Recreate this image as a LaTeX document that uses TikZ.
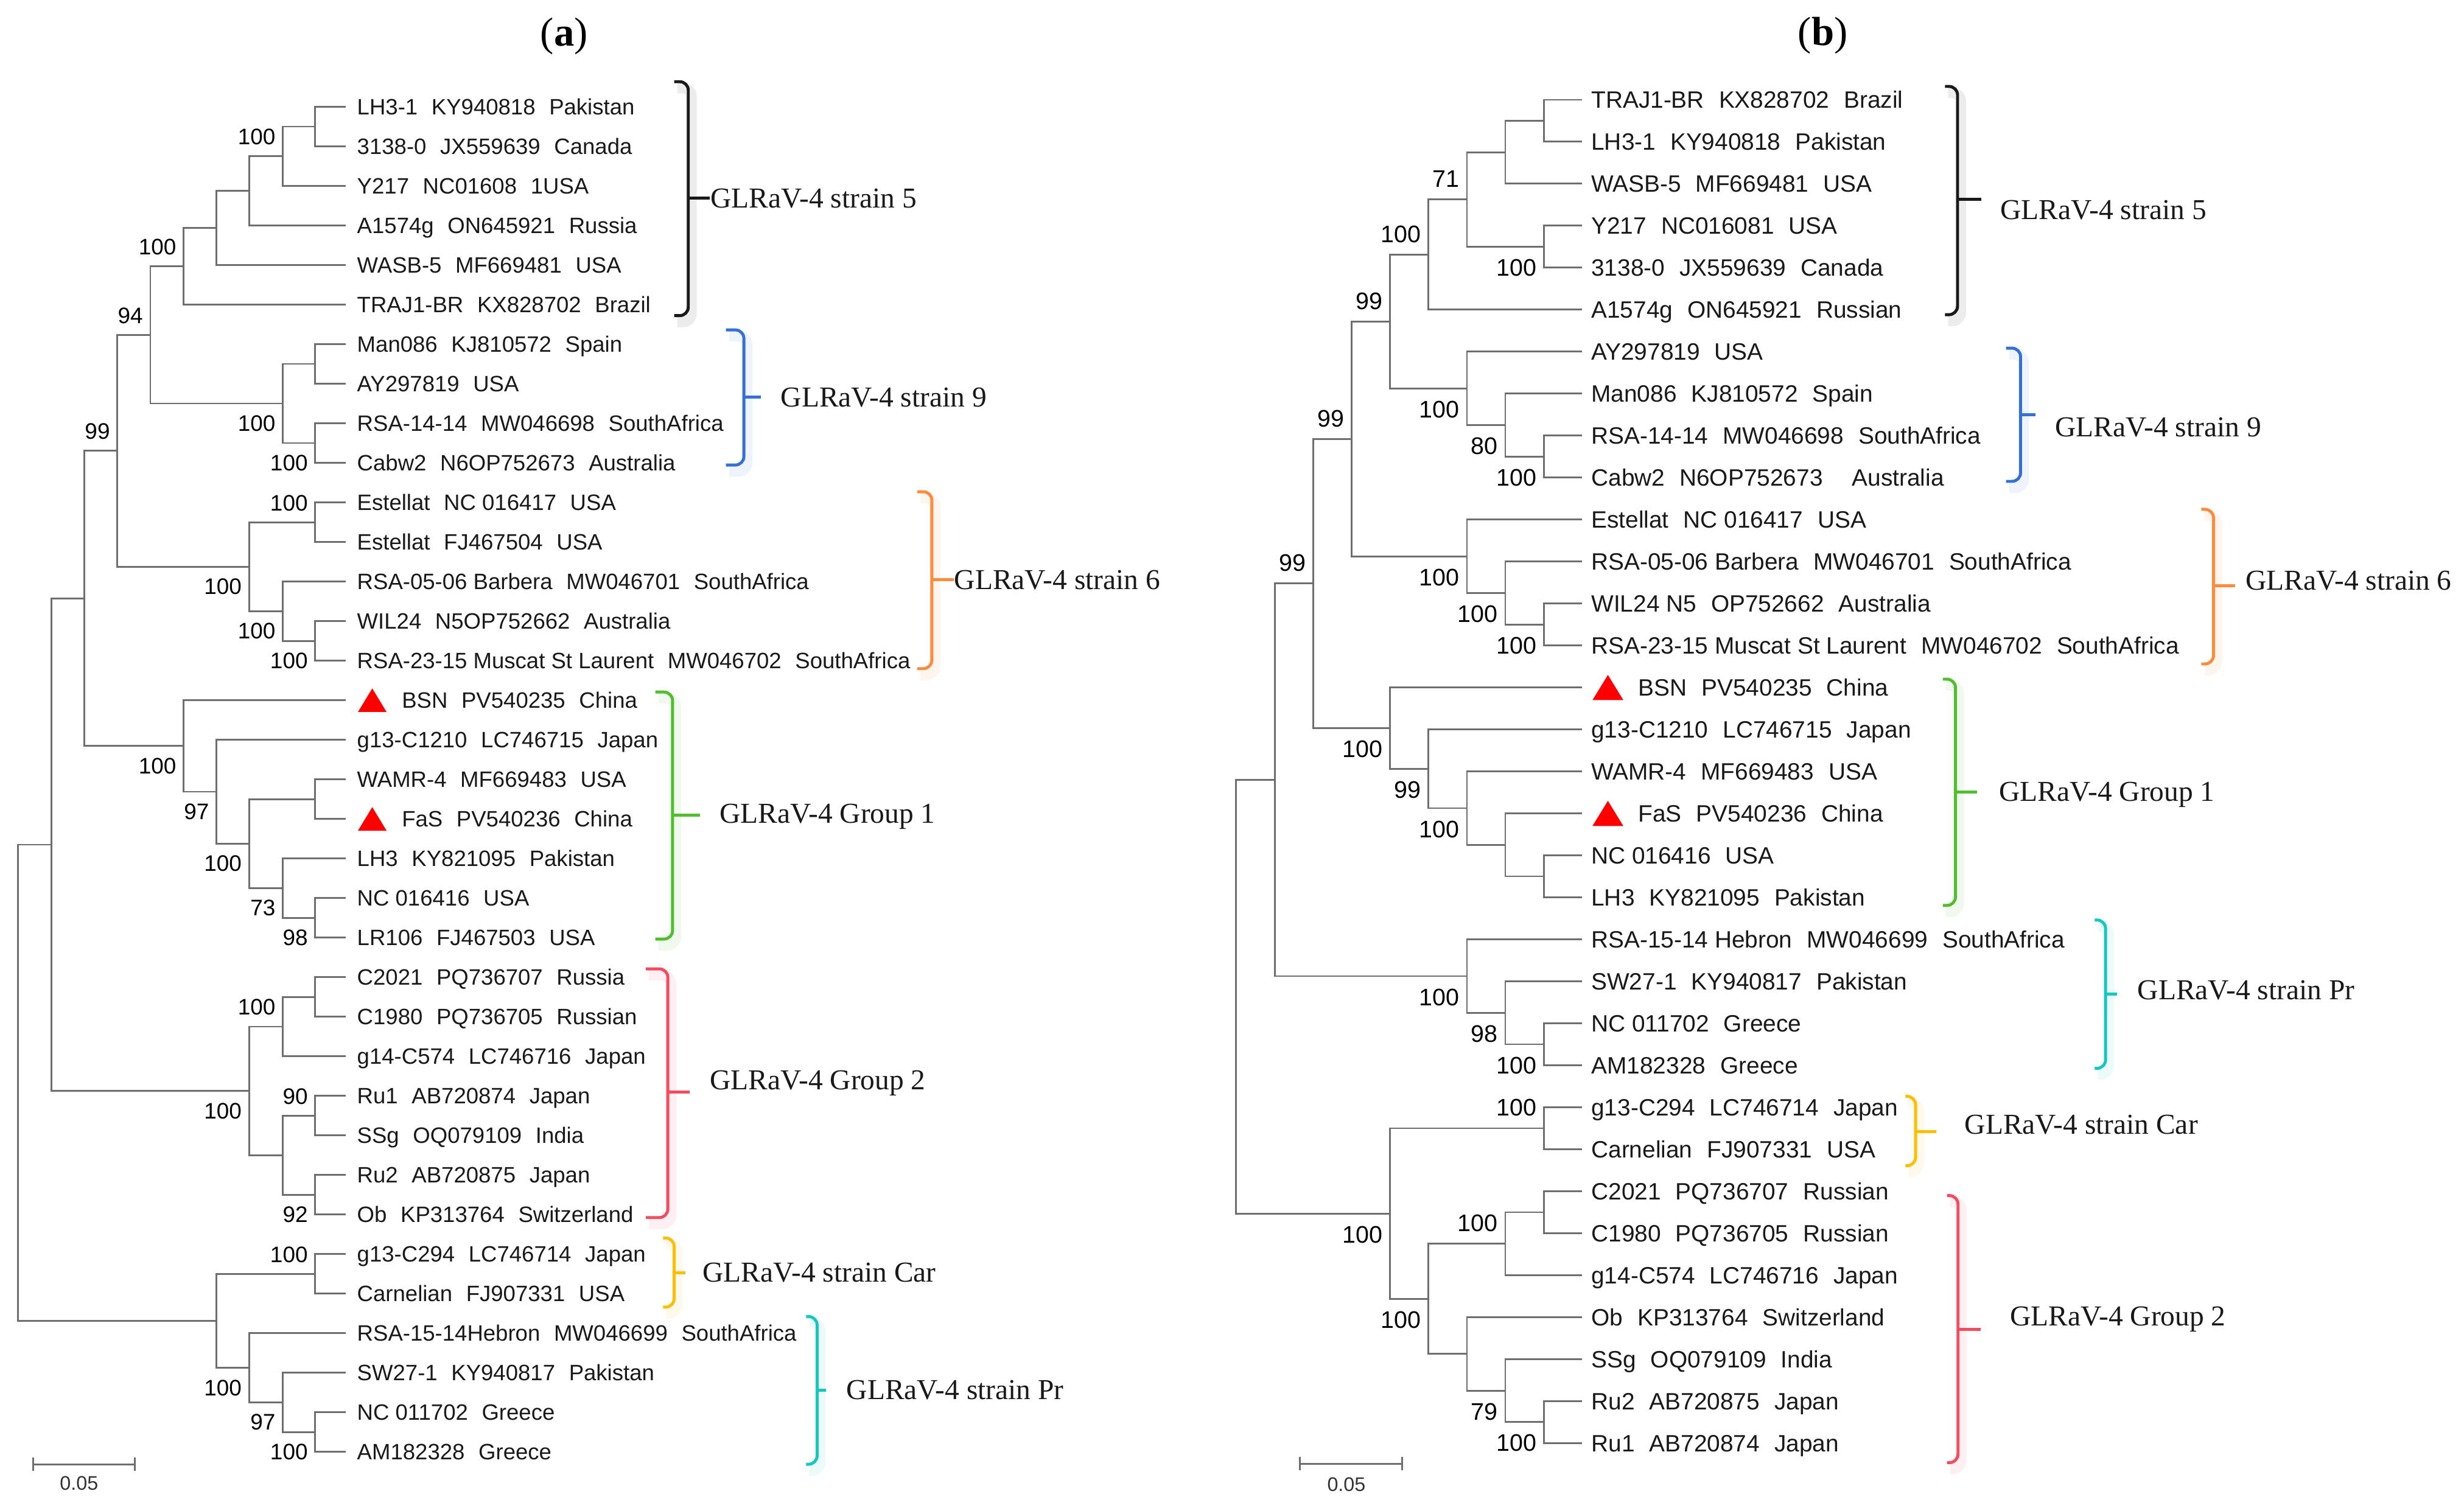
\documentclass[tikz,border=0pt]{standalone}
\usepackage{fontspec}
\setmainfont{Liberation Serif}
\setsansfont{Liberation Sans}
\usetikzlibrary{calc}
\definecolor{treegray}{RGB}{110,110,110}
\definecolor{cblack}{RGB}{25,25,25}
\definecolor{cblue}{RGB}{52,112,216}
\definecolor{corange}{RGB}{255,140,60}
\definecolor{cgreen}{RGB}{80,190,45}
\definecolor{cred}{RGB}{245,75,95}
\definecolor{cyellow}{RGB}{255,190,0}
\definecolor{ccyan}{RGB}{20,200,190}
\newcommand{\gp}{\hspace{0.62em}}
% clade: name, x, child1, child2
\newcommand{\clade}[4]{%
  \path ($(#3)!0.5!(#4)$) coordinate (m#1);
  \coordinate (#1) at (#2,0 |- m#1);
  \draw[br] (#3) -| (#1) |- (#4);}
\newcommand{\bsl}[4]{\node[#4] (bs#1) at ($(#1)+(-4.5,#3)$) {#2};}
\newcommand{\upA}[2]{\bsl{#1}{#2}{-12.5}{bsA}}
\newcommand{\dnA}[2]{\bsl{#1}{#2}{12.5}{bsA}}
\newcommand{\upB}[2]{\bsl{#1}{#2}{-13.2}{bsB}}
\newcommand{\dnB}[2]{\bsl{#1}{#2}{13.2}{bsB}}
\newcommand{\tipA}[3]{\coordinate (a#1) at (220.2,#2); \node[tipA] (la#1) at (227,#2) {#3};}
\newcommand{\tipB}[3]{\coordinate (b#1) at (1006.8,#2); \node[tipB] (lb#1) at (1012.4,#2) {#3};}
% bracket: name, color, hook x, vertical x, top, bottom, mid, tick x
\newcommand{\grpbracket}[8]{%
  \draw[#2, opacity=0.08, line width=5pt, rounded corners=4, shift={(2,4)}] (#3,#5) -- (#4,#5) -- (#4,#6) -- (#3,#6);
  \draw[brk, #2, rounded corners=4] (#3,#5) -- (#4,#5) -- (#4,#6) -- (#3,#6);
  \draw[brk, #2] (#4,#7) -- (#8,#7) coordinate (#1);}
\begin{document}
\begin{tikzpicture}[x=0.025816cm, y=-0.025816cm,
  br/.style={draw=treegray, line width=0.8pt},
  brk/.style={line width=1.4pt},
  tipA/.style={anchor=west, inner sep=0pt, text=cblack, font=\sffamily\fontsize{10.4}{12}\selectfont, text height=7.45pt, text depth=0pt},
  tipB/.style={anchor=west, inner sep=0pt, text=cblack, font=\sffamily\fontsize{11.05}{13}\selectfont, text height=7.9pt, text depth=0pt},
  bsA/.style={anchor=east, inner sep=0pt, text=black, font=\sffamily\fontsize{10.5}{12}\selectfont, text height=7.5pt, text depth=0pt},
  bsB/.style={anchor=east, inner sep=0pt, text=black, font=\sffamily\fontsize{11.2}{13}\selectfont, text height=8pt, text depth=0pt},
  grp/.style={anchor=west, inner sep=0pt, text=cblack, font=\fontsize{13.5}{16}\selectfont, text height=8.9pt, text depth=0pt},
  panel/.style={inner sep=0pt, font=\fontsize{19}{22}\selectfont},
  scl/.style={inner sep=0pt, text=black!80, font=\sffamily\fontsize{9.2}{11}\selectfont}]
\fill[white] (0,0) rectangle (1568,959.5);
\useasboundingbox (0,0) rectangle (1568,959.5);

% panel titles
\node[panel] (pa) at (359,23) {(\textbf{a})};
\node[panel] (pb) at (1160,22.5) {(\textbf{b})};

% ================= panel (a) tips =================
\tipA{1}{68}{LH3-1\gp KY940818\gp Pakistan}
\tipA{2}{93.18}{3138-0\gp JX559639\gp Canada}
\tipA{3}{118.36}{Y217\gp NC01608\gp 1USA}
\tipA{4}{143.54}{A1574g\gp ON645921\gp Russia}
\tipA{5}{168.72}{WASB-5\gp MF669481\gp USA}
\tipA{6}{193.9}{TRAJ1-BR\gp KX828702\gp Brazil}
\tipA{7}{219.08}{Man086\gp KJ810572\gp Spain}
\tipA{8}{244.26}{AY297819\gp USA}
\tipA{9}{269.44}{RSA-14-14\gp MW046698\gp SouthAfrica}
\tipA{10}{294.62}{Cabw2\gp N6OP752673\gp Australia}
\tipA{11}{319.8}{Estellat\gp NC 016417\gp USA}
\tipA{12}{344.98}{Estellat\gp FJ467504\gp USA}
\tipA{13}{370.16}{RSA-05-06 Barbera\gp MW046701\gp SouthAfrica}
\tipA{14}{395.34}{WIL24\gp N5OP752662\gp Australia}
\tipA{15}{420.52}{RSA-23-15 Muscat St Laurent\gp MW046702\gp SouthAfrica}
\coordinate (a16) at (220.2,445.7);
\fill[red] (227.8,453.2) -- (246,453.2) -- (236.9,438.2) -- cycle;
\node[tipA] (la16) at (255.5,445.7) {BSN\gp PV540235\gp China};
\tipA{17}{470.88}{g13-C1210\gp LC746715\gp Japan}
\tipA{18}{496.06}{WAMR-4\gp MF669483\gp USA}
\coordinate (a19) at (220.2,521.24);
\fill[red] (227.8,528.74) -- (246,528.74) -- (236.9,513.74) -- cycle;
\node[tipA] (la19) at (255.5,521.24) {FaS\gp PV540236\gp China};
\tipA{20}{546.42}{LH3\gp KY821095\gp Pakistan}
\tipA{21}{571.6}{NC 016416\gp USA}
\tipA{22}{596.78}{LR106\gp FJ467503\gp USA}
\tipA{23}{621.96}{C2021\gp PQ736707\gp Russia}
\tipA{24}{647.14}{C1980\gp PQ736705\gp Russian}
\tipA{25}{672.32}{g14-C574\gp LC746716\gp Japan}
\tipA{26}{697.5}{Ru1\gp AB720874\gp Japan}
\tipA{27}{722.68}{SSg\gp OQ079109\gp India}
\tipA{28}{747.86}{Ru2\gp AB720875\gp Japan}
\tipA{29}{773.04}{Ob\gp KP313764\gp Switzerland}
\tipA{30}{798.22}{g13-C294\gp LC746714\gp Japan}
\tipA{31}{823.4}{Carnelian\gp FJ907331\gp USA}
\tipA{32}{848.58}{RSA-15-14Hebron\gp MW046699\gp SouthAfrica}
\tipA{33}{873.76}{SW27-1\gp KY940817\gp Pakistan}
\tipA{34}{898.94}{NC 011702\gp Greece}
\tipA{35}{924.12}{AM182328\gp Greece}

% ================= panel (a) tree =================
\clade{A1}{200.6}{a1}{a2}
\clade{A2}{180}{A1}{a3}
\clade{A3}{158.5}{A2}{a4}
\clade{A4}{137.8}{A3}{a5}
\clade{A5}{116.9}{A4}{a6}
\clade{B1}{200.6}{a7}{a8}
\clade{B2}{200.6}{a9}{a10}
\clade{B3}{180}{B1}{B2}
\clade{A6}{95.7}{A5}{B3}
\clade{C1}{200.6}{a11}{a12}
\clade{C2}{200.6}{a14}{a15}
\clade{C3}{180}{a13}{C2}
\clade{C4}{158.5}{C1}{C3}
\clade{A7}{74.7}{A6}{C4}
\clade{D3}{200.6}{a18}{a19}
\clade{D1}{200.6}{a21}{a22}
\clade{D2}{180}{a20}{D1}
\clade{D4}{158.5}{D3}{D2}
\clade{D5}{137.8}{a17}{D4}
\clade{D6}{116.9}{a16}{D5}
\clade{A8}{53.5}{A7}{D6}
\clade{E1}{200.6}{a23}{a24}
\clade{E2}{180}{E1}{a25}
\clade{E3}{200.6}{a26}{a27}
\clade{E4}{200.6}{a28}{a29}
\clade{E5}{180}{E3}{E4}
\clade{E6}{158.5}{E2}{E5}
\clade{A9}{32.6}{A8}{E6}
\clade{F1}{200.6}{a30}{a31}
\clade{G1}{200.6}{a34}{a35}
\clade{G2}{180}{a33}{G1}
\clade{G3}{158.5}{a32}{G2}
\clade{F2}{137.8}{F1}{G3}
\clade{RA}{11.4}{A9}{F2}

\upA{A2}{100} \upA{A5}{100} \dnA{B2}{100} \dnA{B3}{100} \upA{A6}{94}
\upA{C1}{100} \dnA{C2}{100} \dnA{C3}{100} \dnA{C4}{100} \upA{A7}{99}
\dnA{D1}{98} \dnA{D2}{73} \dnA{D4}{100} \dnA{D5}{97} \dnA{D6}{100}
\upA{E2}{100} \upA{E3}{90} \dnA{E4}{92} \dnA{E6}{100}
\upA{F1}{100} \dnA{G1}{100} \dnA{G2}{97} \dnA{G3}{100}

% scale bar (a)
\coordinate (sa1) at (21.2,932);
\coordinate (sa2) at (85.8,932);
\draw[br] (sa1) -- (sa2);
\draw[br] ($(sa1)+(0,-4.3)$) -- ($(sa1)+(0,4.3)$);
\draw[br] ($(sa2)+(0,-4.3)$) -- ($(sa2)+(0,4.3)$);
\node[scl] (sla) at (50.3,944) {0.05};

% brackets (a)
\grpbracket{ka5}{cblack}{429}{438}{52}{200.9}{126.2}{451.6}
\node[grp] (ga5) at (452,126.2) {GLRaV-4 strain 5};
\grpbracket{ka9}{cblue}{462}{473.4}{210}{296}{252.7}{484}
\node[grp] (ga9) at (496.6,252.7) {GLRaV-4 strain 9};
\grpbracket{ka6}{corange}{583.7}{593}{313}{425.6}{369}{607}
\node[grp] (ga6) at (607,369) {GLRaV-4 strain 6};
\grpbracket{kag1}{cgreen}{417}{428}{440.5}{597.7}{519}{445.5}
\node[grp] (gag1) at (457.8,517.8) {GLRaV-4 Group 1};
\grpbracket{kag2}{cred}{411}{425}{616.7}{775}{695}{439}
\node[grp] (gag2) at (451.6,687.3) {GLRaV-4 Group 2};
\grpbracket{kacar}{cyellow}{422}{429}{788}{832}{810}{436}
\node[grp] (gacar) at (447,810) {GLRaV-4 strain Car};
\grpbracket{kapr}{ccyan}{513}{520}{838}{932}{884.8}{525.6}
\node[grp] (gapr) at (538.5,884.8) {GLRaV-4 strain Pr};

% ================= panel (b) tips =================
\tipB{1}{63.5}{TRAJ1-BR\gp KX828702\gp Brazil}
\tipB{2}{90.22}{LH3-1\gp KY940818\gp Pakistan}
\tipB{3}{116.94}{WASB-5\gp MF669481\gp USA}
\tipB{4}{143.66}{Y217\gp NC016081\gp USA}
\tipB{5}{170.38}{3138-0\gp JX559639\gp Canada}
\tipB{6}{197.1}{A1574g\gp ON645921\gp Russian}
\tipB{7}{223.82}{AY297819\gp USA}
\tipB{8}{250.54}{Man086\gp KJ810572\gp Spain}
\tipB{9}{277.26}{RSA-14-14\gp MW046698\gp SouthAfrica}
\tipB{10}{303.98}{Cabw2\gp N6OP752673\gp\gp Australia}
\tipB{11}{330.7}{Estellat\gp NC 016417\gp USA}
\tipB{12}{357.42}{RSA-05-06 Barbera\gp MW046701\gp SouthAfrica}
\tipB{13}{384.14}{WIL24 N5\gp OP752662\gp Australia}
\tipB{14}{410.86}{RSA-23-15 Muscat St Laurent\gp MW046702\gp SouthAfrica}
\coordinate (b15) at (1006.8,437.58);
\fill[red] (1013.4,445.6) -- (1033,445.6) -- (1023.2,429.6) -- cycle;
\node[tipB] (lb15) at (1042.3,437.58) {BSN\gp PV540235\gp China};
\tipB{16}{464.3}{g13-C1210\gp LC746715\gp Japan}
\tipB{17}{491.02}{WAMR-4\gp MF669483\gp USA}
\coordinate (b18) at (1006.8,517.74);
\fill[red] (1013.4,525.74) -- (1033,525.74) -- (1023.2,509.74) -- cycle;
\node[tipB] (lb18) at (1042.3,517.74) {FaS\gp PV540236\gp China};
\tipB{19}{544.46}{NC 016416\gp USA}
\tipB{20}{571.18}{LH3\gp KY821095\gp Pakistan}
\tipB{21}{597.9}{RSA-15-14 Hebron\gp MW046699\gp SouthAfrica}
\tipB{22}{624.62}{SW27-1\gp KY940817\gp Pakistan}
\tipB{23}{651.34}{NC 011702\gp Greece}
\tipB{24}{678.06}{AM182328\gp Greece}
\tipB{25}{704.78}{g13-C294\gp LC746714\gp Japan}
\tipB{26}{731.5}{Carnelian\gp FJ907331\gp USA}
\tipB{27}{758.22}{C2021\gp PQ736707\gp Russian}
\tipB{28}{784.94}{C1980\gp PQ736705\gp Russian}
\tipB{29}{811.66}{g14-C574\gp LC746716\gp Japan}
\tipB{30}{838.38}{Ob\gp KP313764\gp Switzerland}
\tipB{31}{865.1}{SSg\gp OQ079109\gp India}
\tipB{32}{891.82}{Ru2\gp AB720875\gp Japan}
\tipB{33}{918.54}{Ru1\gp AB720874\gp Japan}

% ================= panel (b) tree =================
\clade{P1}{982.6}{b1}{b2}
\clade{P2}{957.9}{P1}{b3}
\clade{P3}{982.6}{b4}{b5}
\clade{P4}{933.5}{P2}{P3}
\clade{P5}{909}{P4}{b6}
\clade{Q1}{982.6}{b9}{b10}
\clade{Q2}{957.9}{b8}{Q1}
\clade{Q3}{933.5}{b7}{Q2}
\clade{R1}{884.6}{P5}{Q3}
\clade{S1}{982.6}{b13}{b14}
\clade{S2}{957.9}{b12}{S1}
\clade{S3}{933.5}{b11}{S2}
\clade{R2}{860.2}{R1}{S3}
\clade{T1}{982.6}{b19}{b20}
\clade{T2}{957.9}{b18}{T1}
\clade{T3}{933.5}{b17}{T2}
\clade{T4}{909}{b16}{T3}
\clade{T5}{884.6}{b15}{T4}
\clade{R3}{835.7}{R2}{T5}
\clade{U1}{982.6}{b23}{b24}
\clade{U2}{957.9}{b22}{U1}
\clade{U3}{933.5}{b21}{U2}
\clade{R4}{811.3}{R3}{U3}
\clade{V1}{982.6}{b25}{b26}
\clade{W1}{982.6}{b27}{b28}
\clade{W2}{957.9}{W1}{b29}
\clade{W3}{982.6}{b32}{b33}
\clade{W4}{957.9}{b31}{W3}
\clade{W5}{933.5}{b30}{W4}
\clade{W6}{909}{W2}{W5}
\clade{V2}{884.6}{V1}{W6}
\clade{RB}{786.6}{R4}{V2}

\dnB{P3}{100} \upB{P4}{71} \upB{P5}{100} \dnB{Q1}{100} \dnB{Q2}{80} \dnB{Q3}{100}
\upB{R1}{99} \dnB{S1}{100} \dnB{S2}{100} \dnB{S3}{100} \upB{R2}{99}
\dnB{T3}{100} \dnB{T4}{99} \dnB{T5}{100} \upB{R3}{99}
\dnB{U1}{100} \dnB{U2}{98} \dnB{U3}{100}
\upB{V1}{100} \upB{W2}{100} \dnB{W3}{100} \dnB{W4}{79} \dnB{W6}{100} \dnB{V2}{100}

% scale bar (b)
\coordinate (sb1) at (827.2,931.7);
\coordinate (sb2) at (892.3,931.7);
\draw[br] (sb1) -- (sb2);
\draw[br] ($(sb1)+(0,-4.3)$) -- ($(sb1)+(0,4.3)$);
\draw[br] ($(sb2)+(0,-4.3)$) -- ($(sb2)+(0,4.3)$);
\node[scl] (slb) at (856.8,944.8) {0.05};

% brackets (b)
\grpbracket{kb5}{cblack}{1237.7}{1245.7}{55}{200.3}{127}{1261}
\node[grp] (gb5) at (1272.8,133.5) {GLRaV-4 strain 5};
\grpbracket{kb9}{cblue}{1276.5}{1285.8}{221.6}{306.4}{264}{1295.4}
\node[grp] (gb9) at (1307.6,271.7) {GLRaV-4 strain 9};
\grpbracket{kb6}{corange}{1400.8}{1408.6}{324.2}{422.6}{373}{1422.3}
\node[grp] (gb6) at (1428.8,369.4) {GLRaV-4 strain 6};
\grpbracket{kbg1}{cgreen}{1236.4}{1244.4}{432.3}{576.3}{504}{1258}
\node[grp] (gbg1) at (1272,504) {GLRaV-4 Group 1};
\grpbracket{kbpr}{ccyan}{1333}{1339.9}{585.6}{680}{632.9}{1347.2}
\node[grp] (gbpr) at (1360,630.3) {GLRaV-4 strain Pr};
\grpbracket{kbcar}{cyellow}{1212.5}{1219}{697.8}{742}{720.2}{1232}
\node[grp] (gbcar) at (1250,715.6) {GLRaV-4 strain Car};
\grpbracket{kbg2}{cred}{1239}{1246}{761}{931}{846.1}{1260.5}
\node[grp] (gbg2) at (1279,837.7) {GLRaV-4 Group 2};
\end{tikzpicture}
\end{document}
